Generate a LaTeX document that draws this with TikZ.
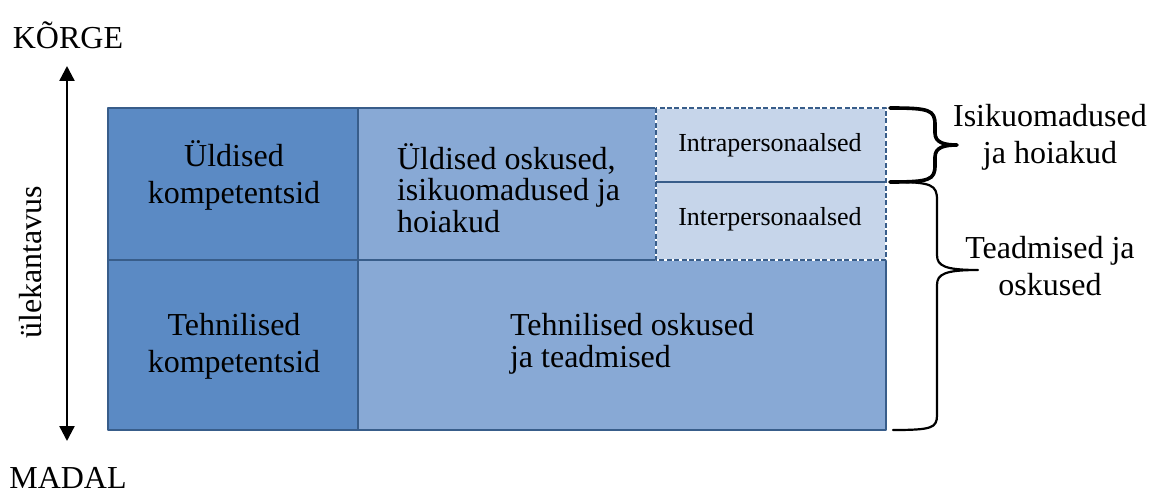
\documentclass[tikz,border=0pt]{standalone}
\usepackage{fontspec}
\setmainfont{Liberation Serif}
\usetikzlibrary{arrows.meta}
\definecolor{darkcell}{HTML}{5B8AC4}
\definecolor{midcell}{HTML}{88A9D5}
\definecolor{lightcell}{HTML}{C6D5EA}
\definecolor{cellline}{HTML}{385D8A}
\tikzset{
	big/.style={font=\fontsize{16}{18.5}\selectfont},
	tight/.style={font=\fontsize{16}{15.8}\selectfont, align=left},
	small/.style={font=\fontsize{13}{15}\selectfont},
	cellborder/.style={draw=cellline, line width=1.4pt},
	softborder/.style={draw=cellline, line width=1.1pt, dash pattern=on 2.5pt off 1.2pt},
}
\begin{document}
\begin{tikzpicture}[x=.5pt, y=-.5pt, line join=round, >={Triangle[width=7.5pt,length=7.5pt]}]
			\useasboundingbox (0,0) rectangle (1155,497);
			% cells
			\fill[darkcell] (108,108) rectangle (358,430);
			\fill[midcell] (358,108) rectangle (886,430);
			\draw[cellborder] (108,108) rectangle (886,430) (358,108) -- (358,430) (108,260) -- (886,260);
			\fill[lightcell] (656,108) rectangle (886,260);
			\draw[white, line width=1.1pt] (656,108) rectangle (886,182) (656,182) rectangle (886,260);
			\draw[softborder] (656,108) rectangle (886,182) (656,182) rectangle (886,260);
			\node[big, align=center] (uk) at (234,175) {Üldised\\kompetentsid};
			\node[big, align=center] (tk) at (234,346) {Tehnilised\\kompetentsid};
			\node[tight, anchor=west] (uo) at (390,188) {Üldised oskused,\\isikuomadused ja\\hoiakud};
			\node[tight, anchor=west] (to) at (503,344) {Tehnilised oskused\\ja teadmised};
			\node[small] (intra) at (770,145) {Intrapersonaalsed};
			\node[small] (inter) at (770,219) {Interpersonaalsed};
			% axis
			\node[big] (korge) at (68,35) {KÕRGE};
			\node[big] (madal) at (68,478) {MADAL};
			\coordinate (top) at (67,66);
			\coordinate (bot) at (67,441);
			\draw[<->, line width=1.2pt] (bot) -- (top);
			\node[big, rotate=90] (yl) at (31,262) {ülekantavus};
			% braces
			\draw[line width=1.8pt, line cap=round] (890,108) .. controls (930,108) and (935,110) .. (935,125) -- (935,133) .. controls (935,143) and (945,145) .. (957,145)
				.. controls (945,145) and (935,147) .. (935,157) -- (935,165) .. controls (935,180) and (930,182) .. (890,182);
			\draw[line width=1.1pt, line cap=round] (893,182) .. controls (932,182) and (937,185) .. (937,200) -- (937,255) .. controls (937,266) and (945,270) .. (978,270)
				.. controls (945,270) and (937,274) .. (937,285) -- (937,415) .. controls (937,428) and (932,430) .. (893,430);
			\node[big, align=center] (ih) at (1050,137) {Isikuomadused\\ja hoiakud};
			\node[big, align=center] (to2) at (1050,266) {Teadmised ja\\oskused};
		\end{tikzpicture}
\end{document}
